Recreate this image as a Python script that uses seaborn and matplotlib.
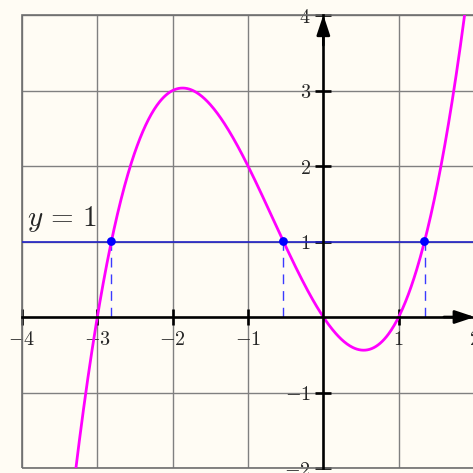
import numpy as np
import pandas as pd
import matplotlib
matplotlib.use("Agg")
import matplotlib.pyplot as plt
import seaborn as sns

# f(x) = 0.5 x (x + 3)(x - 1), highest power first
cubic_coeffs = [0.5, 1.0, -1.5, 0.0]
level_y = 1.0
x_ticks = [-4, -3, -2, -1, 1, 2]
y_ticks = [-2, -1, 1, 2, 3, 4]
x_range = (-4, 2)
y_range = (-2, 4)

bg = "#fffcf4"
sns.set_style("white", {"axes.facecolor": bg, "figure.facecolor": bg})
plt.rcParams["mathtext.fontset"] = "cm"
plt.rcParams["font.family"] = ["DejaVu Sans"]

fig = plt.figure(figsize=(4.73, 4.73), dpi=100)
ax = fig.add_axes([22 / 473, 5 / 473, 452 / 473, 453 / 473])
ax.set_xlim(*x_range)
ax.set_ylim(*y_range)

# grid and border
ax.set_xticks(x_ticks)
ax.set_yticks(y_ticks)
ax.grid(True, color="#808080", lw=1.0, zorder=0)
ax.add_patch(plt.Rectangle((0, 0), 1, 1, transform=ax.transAxes, fill=False,
                           ec="#6e6e6e", lw=1.2, zorder=1, clip_on=False))

# coordinate axes through the origin
for side in ("top", "right"):
    ax.spines[side].set_visible(False)
for side in ("left", "bottom"):
    ax.spines[side].set_position(("data", 0))
    ax.spines[side].set_color("black")
    ax.spines[side].set_linewidth(1.9)
    ax.spines[side].set_zorder(4)
ax.tick_params(bottom=True, left=True, top=False, right=False,
               direction="inout", length=12, width=1.9, color="black",
               labelsize=14.5, pad=3)
ax.set_xticklabels([f"${v}$" for v in x_ticks])
ax.set_yticklabels([f"${v}$" for v in y_ticks])

arrow = dict(arrowstyle="-|>,head_length=0.6,head_width=0.2", color="black",
             lw=1.9, shrinkA=0, shrinkB=0, mutation_scale=20)
ax.annotate("", xy=(x_range[1] + 0.01, 0), xytext=(x_range[1] - 0.4, 0),
            arrowprops=arrow, annotation_clip=False, zorder=5)
ax.annotate("", xy=(0, y_range[1]), xytext=(0, y_range[1] - 0.4),
            arrowprops=arrow, annotation_clip=False, zorder=5)

# the cubic
xs = np.linspace(-3.5, 2.1, 600)
curve = pd.DataFrame({"x": xs, "y": np.polyval(cubic_coeffs, xs)})
sns.lineplot(data=curve, x="x", y="y", color="#ff00ff", lw=2.0, ax=ax,
             zorder=3, sort=False)

# the line y = 1 and where the cubic meets it
ax.axhline(level_y, color="#2323c8", lw=1.2, zorder=2)
shifted = list(cubic_coeffs)
shifted[-1] -= level_y
roots = np.sort(np.roots(shifted).real)
for r in roots:
    ax.plot([r, r], [0, level_y], color="#3a3aff", lw=1.0, ls=(0, (7, 5)),
            zorder=2)
pts = pd.DataFrame({"x": roots, "y": [level_y] * len(roots)})
sns.scatterplot(data=pts, x="x", y="y", color="#0000ff", s=40, ax=ax,
                edgecolor="none", zorder=6)
ax.text(-3.93, 1.1, r"$y\,=\,1$", fontsize=21, ha="left", va="bottom")

ax.set_xlabel("")
ax.set_ylabel("")
fig.savefig("out.png", dpi=100, facecolor=bg)
